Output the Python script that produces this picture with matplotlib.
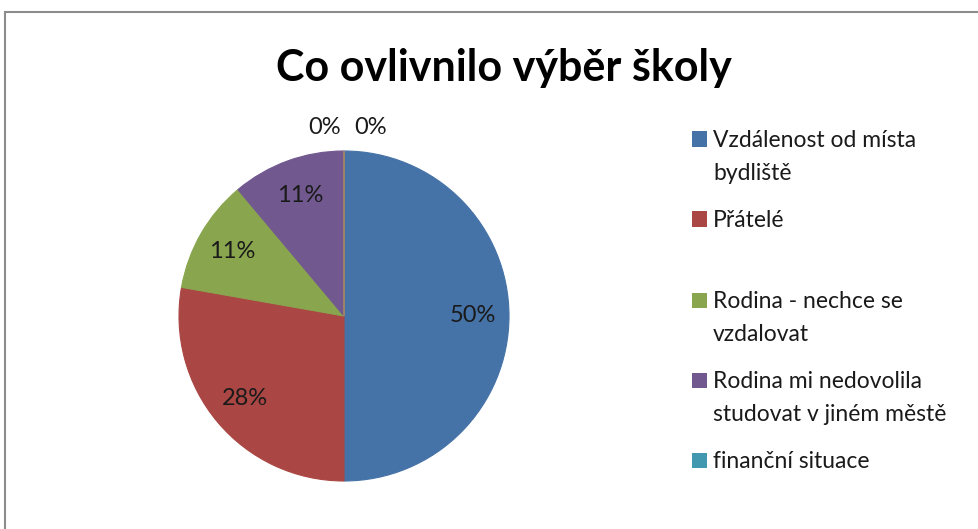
import numpy as np
import matplotlib.pyplot as plt
from matplotlib.patches import Rectangle

plt.rcParams['font.family'] = ['Lato', 'DejaVu Sans']

# data
title = "Co ovlivnilo výběr školy"
categories = ["Vzdálenost od místa\nbydliště", "Přátelé", "Rodina - nechce se\nvzdalovat",
              "Rodina mi nedovolila\nstudovat v jiném městě", "finanční situace", "jiné"]
counts = [9, 5, 2, 2, 0, 0]
colors = ['#4572A7', '#AA4643', '#89A54E', '#71588F', '#4198AF', '#DB843D']

W, H = 979, 529
fig = plt.figure(figsize=(W / 100, H / 100), dpi=100)

# chart border (cut at right/bottom like the screenshot)
fig.add_artist(Rectangle((5 / W, -0.1), 1.2, 1 - 12 / H + 0.1, transform=fig.transFigure,
                         fill=False, edgecolor='#8c8c8c', lw=1.5))

fig.text(504 / W, 1 - 68 / H, title, ha='center', va='center',
         fontsize=31, fontweight='bold')

# pie
cx, cy, r = 344, 316, 165
ax = fig.add_axes([(cx - r) / W, (H - cy - r) / H, 2 * r / W, 2 * r / H])
wedges, _ = ax.pie(counts, colors=colors, startangle=90, counterclock=False,
                   wedgeprops=dict(linewidth=0.8))
for w, c in zip(wedges, colors):
    w.set_edgecolor(c)
ax.set_xlim(-1, 1)
ax.set_ylim(-1, 1)

total = sum(counts)
ang = 90.0
zero_offsets = [-0.115, 0.16]
zi = 0
for v in counts:
    span = 360.0 * v / total
    mid = np.deg2rad(ang - span / 2)
    pct = f"{round(100 * v / total)}%"
    if v > 0:
        ax.text(0.78 * np.cos(mid), 0.78 * np.sin(mid), pct, ha='center', va='center',
                fontsize=17, color='#1a1a1a')
    else:
        ax.text(zero_offsets[zi], 1.14, pct, ha='center', va='center',
                fontsize=17, color='#1a1a1a', clip_on=False)
        zi += 1
    ang -= span

# legend (only first five entries fit in the original)
legend_y = [139, 219, 300, 380, 460]
for lab, c, y in zip(categories[:5], colors[:5], legend_y):
    fig.add_artist(Rectangle((692 / W, 1 - (y + 7.5) / H), 15 / W, 15 / H,
                             transform=fig.transFigure, facecolor=c, edgecolor='none'))
    fig.text(713 / W, 1 - (y - 9) / H, lab, ha='left', va='top', fontsize=16.5,
             color='#1a1a1a', linespacing=1.72)

fig.savefig('out.png', dpi=100)
